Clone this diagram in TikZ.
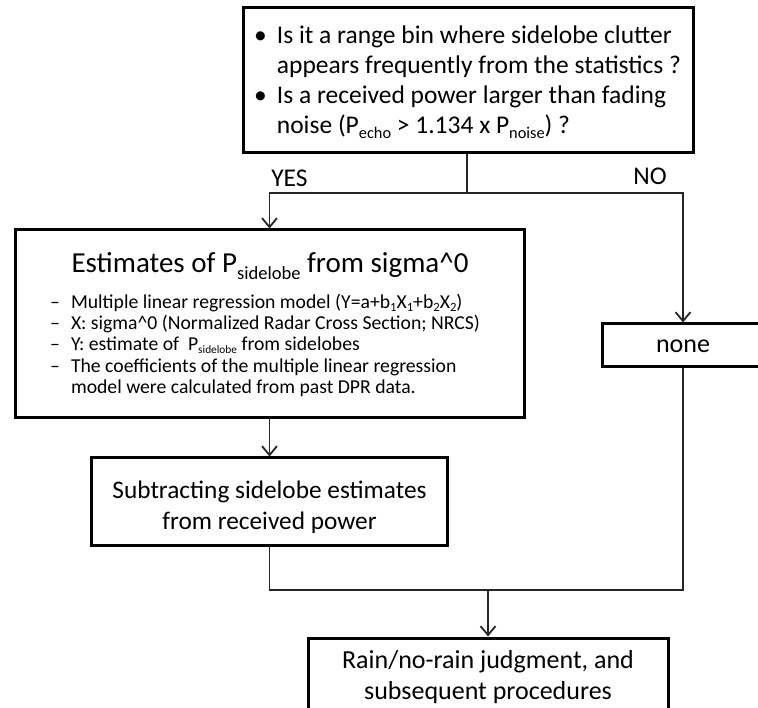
\documentclass[tikz,border=0pt]{standalone}
\usepackage{fontspec}
\setmainfont{Carlito}
\usetikzlibrary{arrows.meta}
\newcommand\sbs[1]{\raisebox{-0.22em}{\scalebox{0.64}{#1}}}
\newcommand\sbl[1]{\raisebox{-0.15em}{\scalebox{0.64}{#1}}}
\tikzset{
  box/.style={draw, line width=3pt, inner sep=0pt, fill=white},
  conn/.style={line width=1.8pt, draw=black!85},
  arr/.style={conn, -{Straight Barb[length=9pt,width=15pt,line width=1.8pt]}},
  lbl/.style={inner sep=0pt, font=\fontsize{25.5}{30}\selectfont}
}
\begin{document}
\begin{tikzpicture}[x=1pt,y=-1pt]
\useasboundingbox (0,0) rectangle (758,708);
% boxes
\node[box, minimum width=450pt, minimum height=145pt] (q) at (468,80.5) {};
\node[box, minimum width=509pt, minimum height=188pt] (est) at (269.5,324) {};
\node[box, minimum width=162pt, minimum height=43pt] (none) at (683,345.5) {};
\node[box, minimum width=356pt, minimum height=87pt] (sub) at (269.5,501.5) {};
\node[box, minimum width=360pt, minimum height=76pt] (fin) at (488,676) {};
% texts
\node[anchor=north west, inner sep=0pt, font=\fontsize{25.5}{30}\selectfont] (qtext) at (254,22)
  {\begin{tabular}{@{}l@{\hspace{10pt}}l@{}}
   \textbullet & Is it a range bin where sidelobe clutter\\
   & appears frequently from the statistics ?\\
   \textbullet & Is a received power larger than fading\\
   & noise (P\sbs{echo} > 1.134 x P\sbs{noise}) ?
   \end{tabular}};
\node[anchor=base, inner sep=0pt, font=\fontsize{29}{34}\selectfont] (esttitle) at (270,273)
  {Estimates of P\sbs{sidelobe} from sigma\textasciicircum 0};
\node[anchor=north west, inner sep=0pt, font=\fontsize{19.7}{21.3}\selectfont] (estlist) at (50,293.1)
  {\begin{tabular}{@{}l@{\hspace{11pt}}l@{}}
   – & Multiple linear regression model (Y=a+b\sbl{1}X\sbl{1}+b\sbl{2}X\sbl{2})\\
   – & X: sigma\textasciicircum 0 (Normalized Radar Cross Section; NRCS)\\
   – & Y: estimate of \ P\sbl{\scalebox{0.9}{sidelobe}} from sidelobes\\
   – & The coefficients of the multiple linear regression\\
   & model were calculated from past DPR data.
   \end{tabular}};
\node[inner sep=0pt, align=center, font=\fontsize{25.3}{31}\selectfont] (subtext) at (269.5,507) {Subtracting sidelobe estimates\\from received power};
\node[inner sep=0pt, font=\fontsize{26}{31}\selectfont] (nonetext) at (683,346) {none};
\node[inner sep=0pt, align=center, font=\fontsize{26}{31}\selectfont] (fintext) at (488,677) {Rain/no-rain judgment, and\\subsequent procedures};
\node[lbl] (yes) at (289.5,178) {YES};
\node[lbl] (no) at (650,176) {NO};
% connectors
\coordinate (split) at (467,193);
\coordinate (join) at (488,590);
\draw[conn] (q.south -| split) -- (split);
\draw[arr] (split) -| (est.north);
\draw[arr] (split) -| (none.north);
\draw[arr] (est.south) -- (sub.north);
\draw[conn] (sub.south) |- (join);
\draw[conn] (none.south) |- (join);
\draw[arr] (join) -- (fin.north);
\end{tikzpicture}
\end{document}
